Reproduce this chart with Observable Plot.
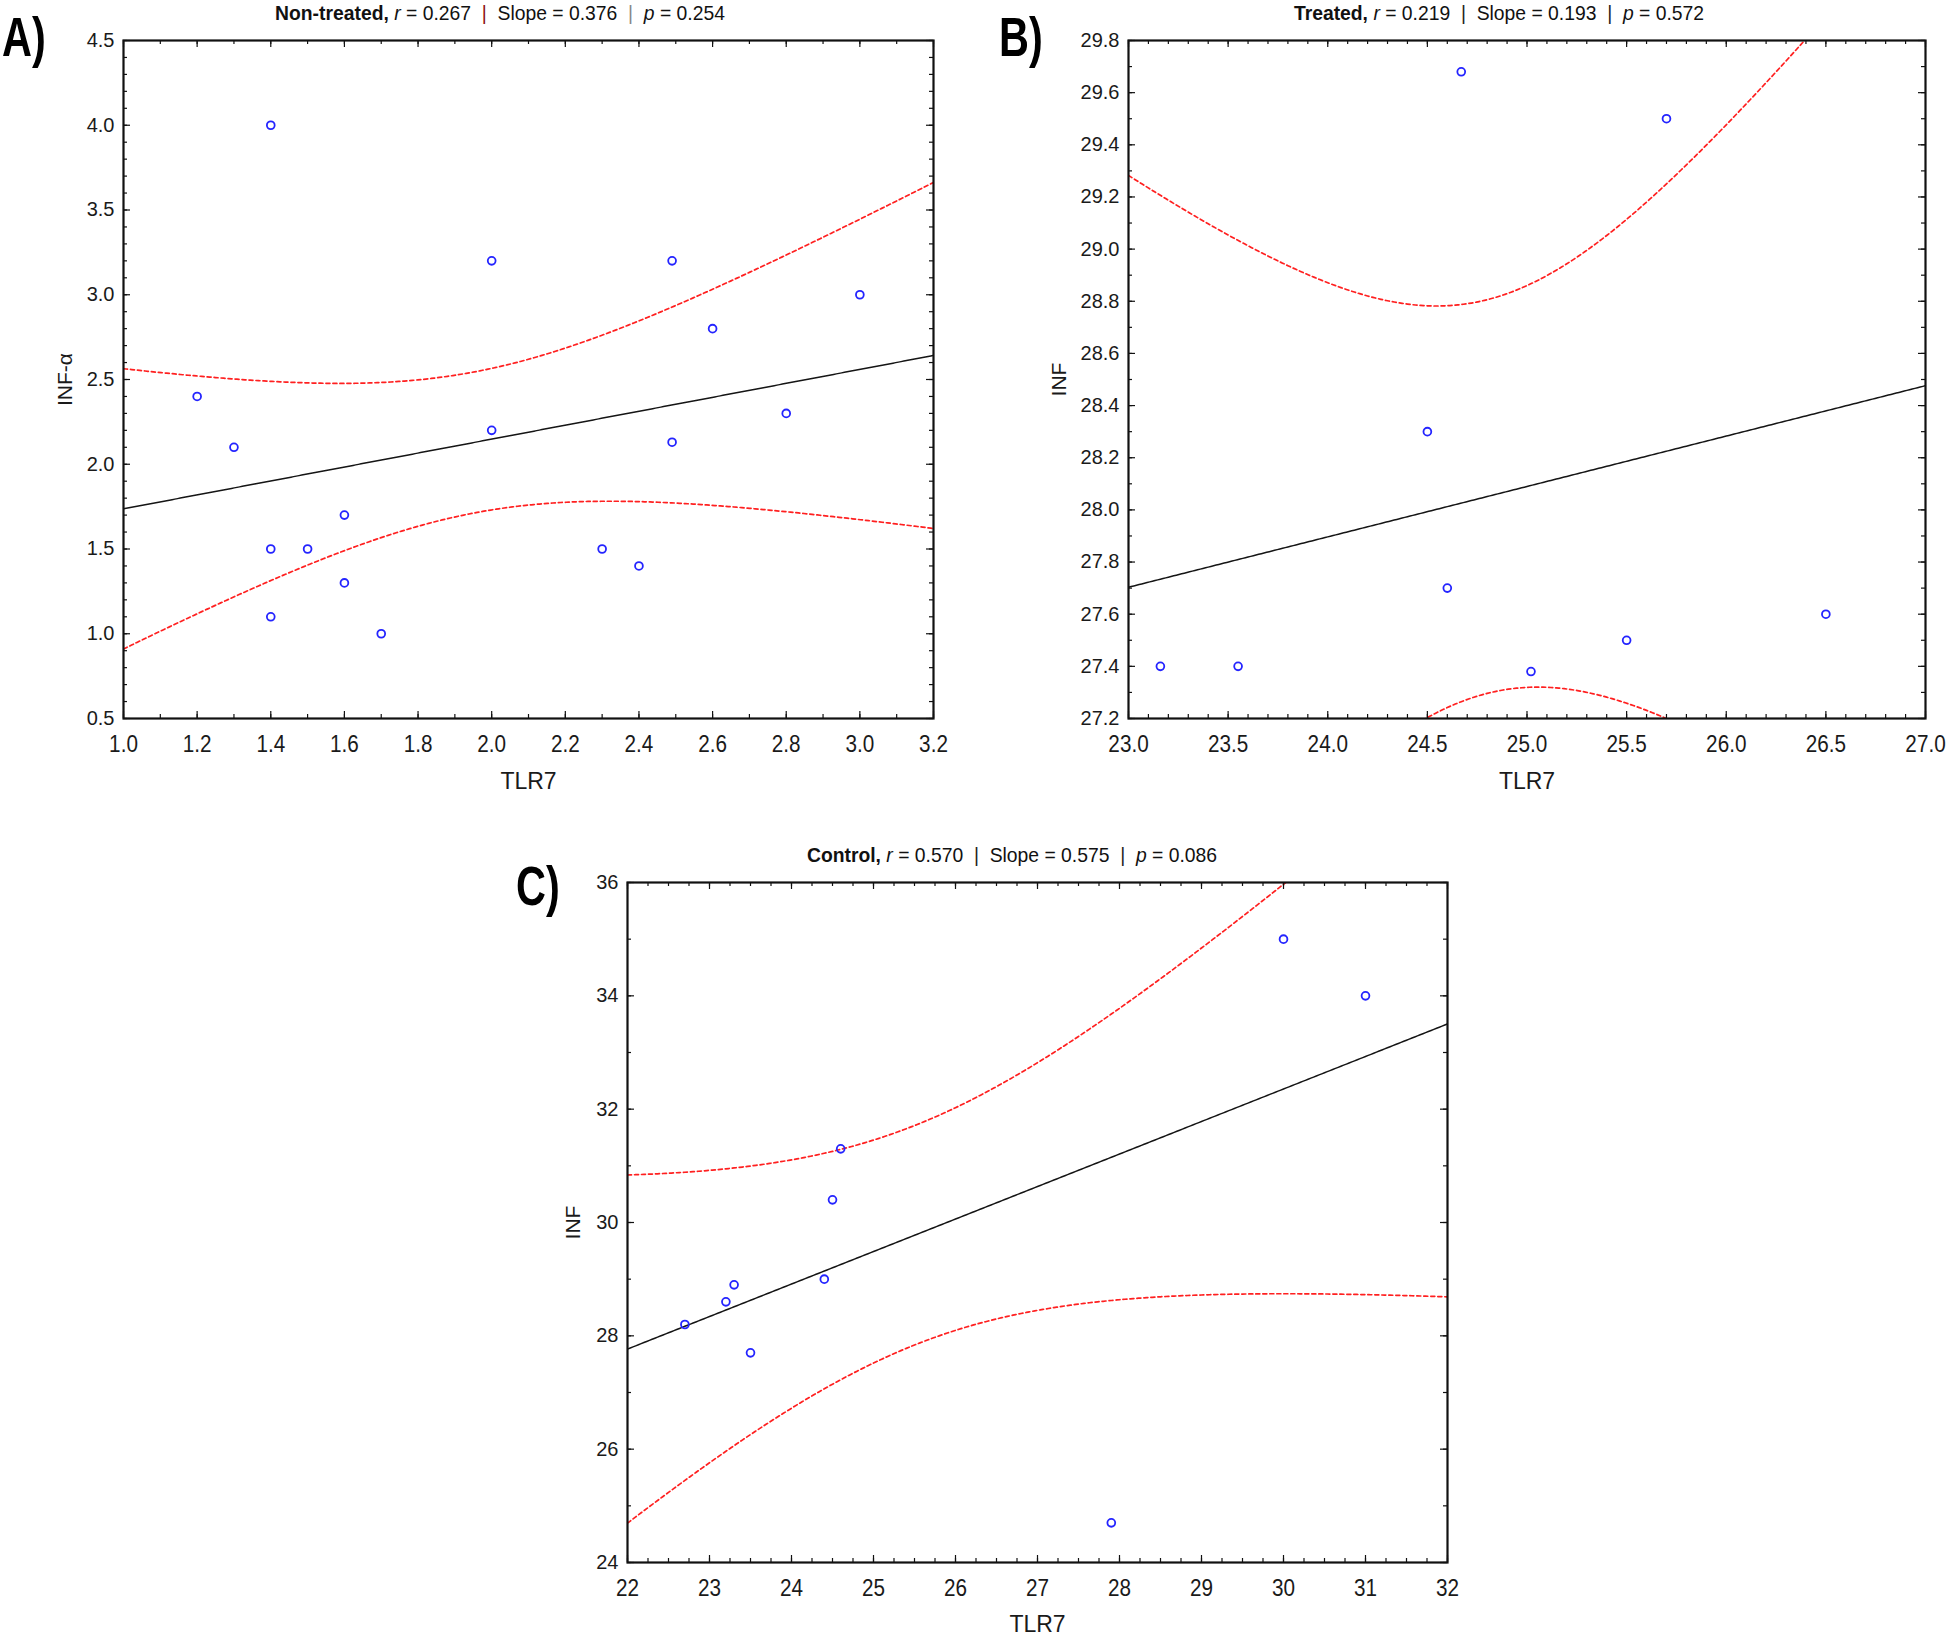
<!DOCTYPE html>
<html><head><meta charset="utf-8">
<script src="https://cdn.jsdelivr.net/npm/d3@7"></script>
<script src="https://cdn.jsdelivr.net/npm/@observablehq/plot@0.6"></script>
<style>
html,body{margin:0;padding:0;background:#fff;}
#root{position:relative;width:1946px;height:1635px;overflow:hidden;background:#fff;}
.panel{position:absolute;}
.title{position:absolute;font-family:'Liberation Sans Narrow','Arial Narrow','Liberation Sans',sans-serif;font-size:21px;line-height:22px;color:#111;white-space:nowrap;text-align:center;transform:scaleX(0.92);transform-origin:50% 50%;}
.title b{font-weight:bold;}
.letter{position:absolute;font-family:'Liberation Sans Narrow','Liberation Sans',sans-serif;font-weight:bold;font-size:56px;line-height:56px;color:#000;transform:scaleX(0.74);transform-origin:0 50%;}
</style></head><body><div id="root"></div>
<script>
// ---------------- data ----------------
// Panel A: Non-treated
const aTLR7 = [1.4, 2.0, 2.49, 3.0, 2.6, 1.2, 2.8, 1.3, 2.0, 2.49, 1.6, 1.4, 1.5, 2.3, 2.4, 1.6, 1.4, 1.7];
const aINF  = [4.0, 3.2, 3.2, 3.0, 2.8, 2.4, 2.3, 2.1, 2.2, 2.13, 1.7, 1.5, 1.5, 1.5, 1.4, 1.3, 1.1, 1.0];
// Panel B: Treated
const bTLR7 = [24.67, 25.70, 24.50, 24.60, 23.16, 23.55, 25.02, 25.50, 26.50];
const bINF  = [29.68, 29.50, 28.30, 27.70, 27.40, 27.40, 27.38, 27.50, 27.60];
// Panel C: Control
const cTLR7 = [30.0, 31.0, 24.6, 24.5, 24.4, 23.3, 23.2, 22.7, 23.5, 27.9];
const cINF  = [35.0, 34.0, 31.3, 30.4, 29.0, 28.9, 28.6, 28.2, 27.7, 24.7];

// tick labels
const aXTicks = [1.0, 1.2, 1.4, 1.6, 1.8, 2.0, 2.2, 2.4, 2.6, 2.8, 3.0, 3.2];
const aYTicks = [0.5, 1.0, 1.5, 2.0, 2.5, 3.0, 3.5, 4.0, 4.5];
const bXTicks = [23.0, 23.5, 24.0, 24.5, 25.0, 25.5, 26.0, 26.5, 27.0];
const bYTicks = [27.2, 27.4, 27.6, 27.8, 28.0, 28.2, 28.4, 28.6, 28.8, 29.0, 29.2, 29.4, 29.6, 29.8];
const cXTicks = [22, 23, 24, 25, 26, 27, 28, 29, 30, 31, 32];
const cYTicks = [24, 26, 28, 30, 32, 34, 36];

// titles
const titleNames = ["Non-treated,", "Treated,", "Control,"];
const titleR = ["0.267", "0.219", "0.570"];
const titleSlope = ["0.376", "0.193", "0.575"];
const titleP = ["0.254", "0.572", "0.086"];
const panelLetters = ["A)", "B)", "C)"];
const yLabels = ["INF-α", "INF", "INF"];
const xLabel = "TLR7";

// ---------------- stats ----------------
function lgamma(z){
  const g=7, c=[0.99999999999980993,676.5203681218851,-1259.1392167224028,771.32342877765313,-176.61502916214059,12.507343278686905,-0.13857109526572012,9.9843695780195716e-6,1.5056327351493116e-7];
  if(z<0.5) return Math.log(Math.PI/Math.sin(Math.PI*z)) - lgamma(1-z);
  z-=1; let x=c[0]; for(let i=1;i<g+2;i++) x+=c[i]/(z+i);
  const t=z+g+0.5;
  return 0.5*Math.log(2*Math.PI)+(z+0.5)*Math.log(t)-t+Math.log(x);
}
function tQuantile(p, df){
  const k = Math.exp(lgamma((df+1)/2)-lgamma(df/2))/Math.sqrt(df*Math.PI);
  const pdf = t => k*Math.pow(1+t*t/df, -(df+1)/2);
  const cdf0 = x => { const n=400, h=x/n; let s=pdf(0)+pdf(x); for(let i=1;i<n;i++) s+=(i%2?4:2)*pdf(i*h); return s*h/3; };
  let lo=0, hi=30;
  for(let i=0;i<60;i++){ const m=(lo+hi)/2; if(cdf0(m) < p-0.5) lo=m; else hi=m; }
  return (lo+hi)/2;
}
function fit(xs, ys, domain){
  const n=xs.length, mx=d3.mean(xs), my=d3.mean(ys);
  let sxx=0, sxy=0;
  for(let i=0;i<n;i++){ sxx+=(xs[i]-mx)**2; sxy+=(xs[i]-mx)*(ys[i]-my); }
  const b=sxy/sxx, a=my-b*mx;
  let sse=0; for(let i=0;i<n;i++) sse+=(ys[i]-a-b*xs[i])**2;
  const s=Math.sqrt(sse/(n-2)), t=tQuantile(0.975, n-2);
  return d3.range(0, 301).map(i => {
    const x = domain[0] + (domain[1]-domain[0])*i/300;
    const yh = a + b*x, se = s*Math.sqrt(1/n + (x-mx)**2/sxx);
    return {x, y: yh, lo: yh - t*se, hi: yh + t*se};
  });
}
function minorTicks(domain, step){
  const n = Math.round((domain[1]-domain[0])/step);
  return d3.range(0, n+1).map(i => domain[0] + i*step);
}

const NARROW = "'Liberation Sans Narrow','Arial Narrow','Liberation Sans',sans-serif";
const REG = "'Liberation Sans',Arial,sans-serif";

function makePanel(o){
  const {xs, ys, xTicks, yTicks, xMinor, yMinor, xFmt, yFmt, yLabel, yLabelOff, xLabelOff, width, height, ml, mt, mr, mb} = o;
  const xDomain = [xTicks[0], xTicks[xTicks.length-1]];
  const yDomain = [yTicks[0], yTicks[yTicks.length-1]];
  const W = width - ml - mr, H = height - mt - mb;
  const rows = fit(xs, ys, xDomain);
  const pts = xs.map((x,i)=>({x, y: ys[i]}));
  const xm = minorTicks(xDomain, xMinor), ym = minorTicks(yDomain, yMinor);
  const MAJ = 7, MIN = 4;
  const tk = {stroke:"#111", strokeWidth:1.2};
  const svg = Plot.plot({
    width, height, marginLeft: ml, marginTop: mt, marginRight: mr, marginBottom: mb,
    x: {domain: xDomain}, y: {domain: yDomain},
    style: {background:"white", color:"#1a1a1a", overflow:"visible"},
    marks: [
      Plot.line(rows, {x:"x", y:"hi", stroke:"#ff2020", strokeWidth:1.7, strokeDasharray:"4,3", clip:true}),
      Plot.line(rows, {x:"x", y:"lo", stroke:"#ff2020", strokeWidth:1.7, strokeDasharray:"4,3", clip:true}),
      Plot.line(rows, {x:"x", y:"y", stroke:"#151515", strokeWidth:1.5, clip:true}),
      Plot.dot(pts, {x:"x", y:"y", r:3.9, stroke:"#2424ff", strokeWidth:1.8, fill:"none"}),
      // inward minor ticks
      Plot.tickX(xm, {x:d=>d, insetTop: H-MIN, ...tk}),
      Plot.tickX(xm, {x:d=>d, insetBottom: H-MIN, ...tk}),
      Plot.tickY(ym, {y:d=>d, insetRight: W-MIN, ...tk}),
      Plot.tickY(ym, {y:d=>d, insetLeft: W-MIN, ...tk}),
      // inward major ticks
      Plot.tickX(xTicks, {x:d=>d, insetTop: H-MAJ, ...tk}),
      Plot.tickX(xTicks, {x:d=>d, insetBottom: H-MAJ, ...tk}),
      Plot.tickY(yTicks, {y:d=>d, insetRight: W-MAJ, ...tk}),
      Plot.tickY(yTicks, {y:d=>d, insetLeft: W-MAJ, ...tk}),
      Plot.frame({stroke:"#111", strokeWidth:2.2}),
      Plot.axisX({ticks: xTicks, tickSize: 0, tickPadding: 17, tickFormat: xFmt, label: null, fontSize: 23, fontFamily: NARROW}),
      Plot.axisY({ticks: yTicks, tickSize: 0, tickPadding: 9, tickFormat: yFmt, label: null, fontSize: 20, fontFamily: REG}),
      Plot.text([xLabel], {text: d=>d, frameAnchor:"bottom", dy: xLabelOff, fontSize: 23, fontFamily: NARROW, fill:"#1a1a1a", ariaLabel:"xlabel"}),
      Plot.text([yLabel], {text: d=>d, frameAnchor:"left", textAnchor:"middle", lineAnchor:"middle", dx: -yLabelOff, rotate: -90, fontSize: 21, fontFamily: REG, fill:"#1a1a1a"})
    ]
  });
  // condense the x tick labels and x label slightly (narrow face look)
  svg.querySelectorAll('g[aria-label="x-axis tick label"] text, g[aria-label="xlabel"] text').forEach(t => {
    const tr = t.getAttribute("transform") || "";
    t.setAttribute("transform", tr + " scale(0.9,1)");
  });
  return svg;
}

const root = document.getElementById("root");
function place(el, left, top){ const d=document.createElement("div"); d.className="panel"; d.style.left=left+"px"; d.style.top=top+"px"; d.appendChild(el); root.appendChild(d); }
function addTitle(i, cx, top, sepColors){
  const d = document.createElement("div");
  d.className = "title";
  d.style.left = (cx-400)+"px"; d.style.top = top+"px"; d.style.width = "800px";
  d.innerHTML = `<b>${titleNames[i]}</b> <i>r</i> = ${titleR[i]} <span style="color:${sepColors[0]}">&nbsp;|&nbsp;</span> Slope = ${titleSlope[i]} <span style="color:${sepColors[1]}">&nbsp;|&nbsp;</span> <i>p</i> = ${titleP[i]}`;
  root.appendChild(d);
}
function addLetter(i, left, top){
  const d = document.createElement("div");
  d.className = "letter"; d.textContent = panelLetters[i];
  d.style.left = left+"px"; d.style.top = top+"px";
  root.appendChild(d);
}

const f1 = d3.format(".1f"), f0 = d3.format("d");

// Panel A: frame x 123..933, y 40..718
place(makePanel({xs:aTLR7, ys:aINF, xTicks:aXTicks, yTicks:aYTicks, xMinor:0.1, yMinor:0.1, xFmt:f1, yFmt:f1,
  yLabel:yLabels[0], yLabelOff:58, xLabelOff:70, width:946, height:800, ml:123, mt:40, mr:13, mb:82}), 0, 0);
// Panel B: frame x 1128..1925, y 40..718
place(makePanel({xs:bTLR7, ys:bINF, xTicks:bXTicks, yTicks:bYTicks, xMinor:0.1, yMinor:0.1, xFmt:f1, yFmt:f1,
  yLabel:yLabels[1], yLabelOff:69, xLabelOff:70, width:946, height:800, ml:128, mt:40, mr:21, mb:82}), 1000, 0);
// Panel C: frame x 627..1447, y 882..1562
place(makePanel({xs:cTLR7, ys:cINF, xTicks:cXTicks, yTicks:cYTicks, xMinor:0.25, yMinor:1, xFmt:f0, yFmt:f0,
  yLabel:yLabels[2], yLabelOff:54, xLabelOff:69, width:987, height:793, ml:127, mt:40, mr:40, mb:73}), 500, 842);

addTitle(0, 500, 2, ["#8b1010", "#888"]);
addTitle(1, 1499, 2, ["#222", "#222"]);
addTitle(2, 1012, 844, ["#222", "#222"]);

addLetter(0, 2, 9);
addLetter(1, 999, 9);
addLetter(2, 516, 858);
</script></body></html>
